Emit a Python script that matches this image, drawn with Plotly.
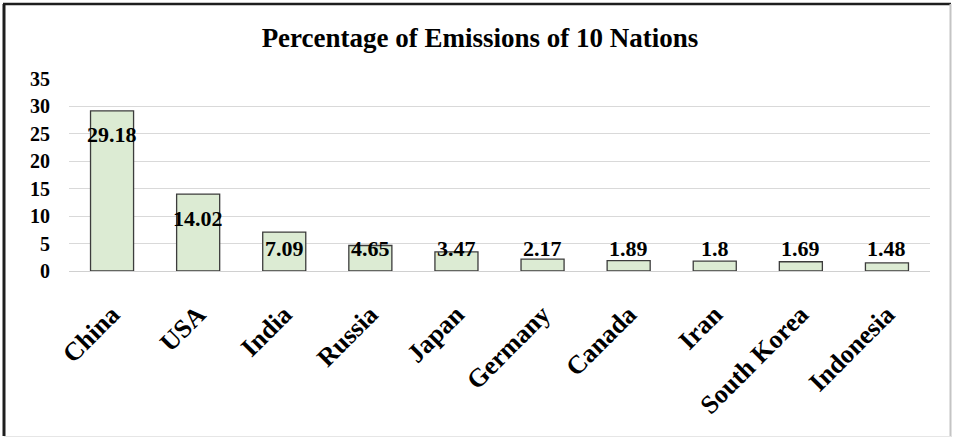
import plotly.graph_objects as go

# Share of global emissions (%) for the ten largest emitters
countries = ["China", "USA", "India", "Russia", "Japan",
             "Germany", "Canada", "Iran", "South Korea", "Indonesia"]
shares = [29.18, 14.02, 7.09, 4.65, 3.47, 2.17, 1.89, 1.8, 1.69, 1.48]
y_ticks = [0, 5, 10, 15, 20, 25, 30, 35]

W, H = 953, 439
ML, MR, MT, MB = 69, 23, 79, 168
Y_MAX = 35
SERIF = "Liberation Serif, Times New Roman, serif"

fig = go.Figure(
    go.Bar(
        x=countries,
        y=shares,
        marker=dict(color="#dcebd3", line=dict(color="#3c3c3c", width=1.3)),
        hoverinfo="x+y",
    )
)

# value labels sit inside the top of each bar, but never below the axis band
plot_h = H - MT - MB
px_per_unit = plot_h / Y_MAX
for name, v in zip(countries, shares):
    if v * px_per_unit - 24 >= 23:
        y, shift = v, -24
    else:
        y, shift = 0, 23
    fig.add_annotation(
        x=name, y=y, yshift=shift, text=f"<b>{v:g}</b>", showarrow=False,
        yanchor="middle", xanchor="center",
        font=dict(family=SERIF, size=22, color="#000000", weight="bold"),
    )

# chart frame: dark top/left edges, faint right/bottom edges
plot_w = W - ML - MR
def px(xp):
    return (xp - ML) / plot_w
def py(yp):
    return (H - MB - yp) / plot_h

frame = [
    (4, 4, 4, 436, "#1e1e1e", 3),
    (3, 4, 951, 4, "#1e1e1e", 2.5),
    (950.5, 4, 950.5, 437, "#c4c4c4", 2),
    (4, 436.5, 951, 436.5, "#e6e6e6", 1),
]
for x0, y0, x1, y1, c, w in frame:
    fig.add_shape(type="line", xref="paper", yref="paper",
                  x0=px(x0), y0=py(y0), x1=px(x1), y1=py(y1),
                  line=dict(color=c, width=w), layer="above")

fig.update_layout(
    width=W, height=H,
    margin=dict(l=ML, r=MR, t=MT, b=MB, pad=0),
    paper_bgcolor="white", plot_bgcolor="white",
    bargap=0.5,
    showlegend=False,
    title=dict(
        text="<b>Percentage of Emissions of 10 Nations</b>",
        x=480 / W, xref="container", xanchor="center",
        y=1 - 38 / H, yref="container", yanchor="middle",
        font=dict(family=SERIF, size=27, color="#000000"),
    ),
    xaxis=dict(
        tickangle=-45,
        tickfont=dict(family=SERIF, size=26, color="#000000", weight="bold"),
        showgrid=False, showline=False, zeroline=False,
        ticks="", ticklabelstandoff=22,
    ),
    yaxis=dict(
        range=[0, Y_MAX], tickvals=y_ticks,
        tickfont=dict(family=SERIF, size=20, color="#000000", weight="bold"),
        showgrid=True, gridcolor="#d9d9d9", gridwidth=1,
        zeroline=True, zerolinecolor="#d0d0d0", zerolinewidth=1,
        showline=False, ticks="", ticklabelstandoff=18,
    ),
)

fig.write_html("out.html")
